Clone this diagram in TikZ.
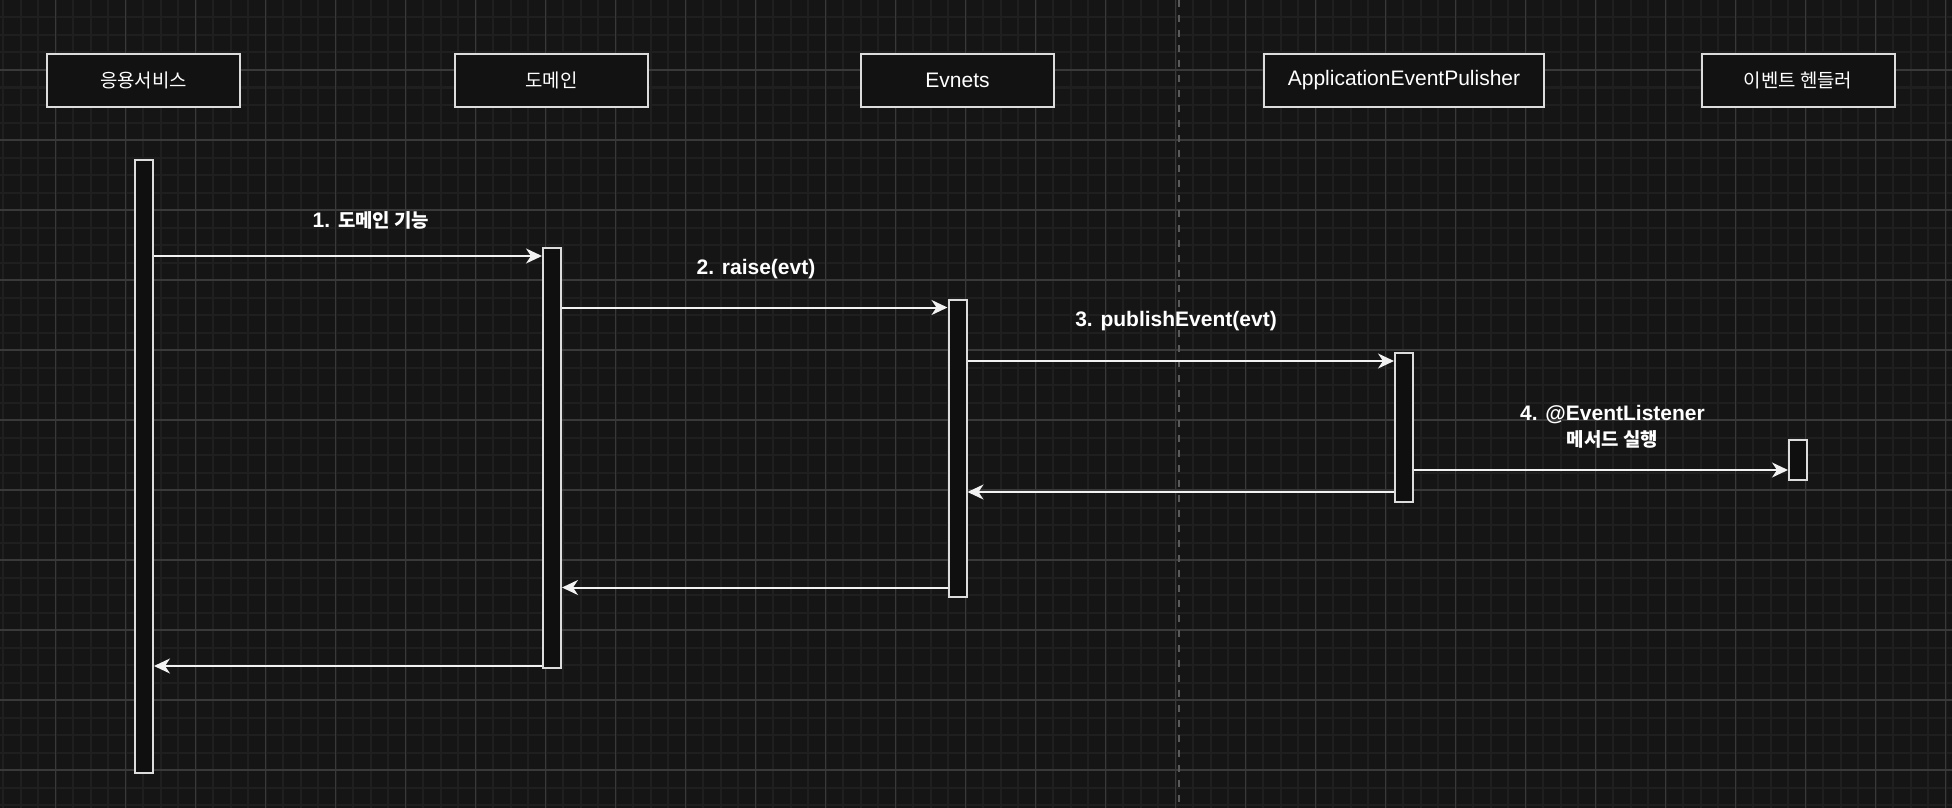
\documentclass[tikz,border=0pt]{standalone}
\usepackage{fontspec}
\setmainfont{Liberation Sans}
\newfontfamily\kr[Scale=0.9]{Noto Sans CJK KR}
\usetikzlibrary{arrows.meta}
\definecolor{bgc}{HTML}{151515}
\definecolor{minorc}{HTML}{1F1F1F}
\definecolor{majorc}{HTML}{393939}
\definecolor{sepc}{HTML}{5A5A5A}
\definecolor{boxline}{HTML}{DCDCDC}
\definecolor{boxfill}{HTML}{121212}
\definecolor{barfill}{HTML}{0F0F0F}
\definecolor{arrowc}{HTML}{F2F2F2}
\tikzset{
  minorline/.style={draw=minorc, line width=2pt},
  majorv/.style={draw=majorc, line width=1.3pt},
  majorh/.style={draw=majorc, line width=1.8pt},
  sepline/.style={draw=sepc, line width=2pt, dash pattern=on 7pt off 8pt},
  hdr/.style={draw=boxline, fill=boxfill, line width=2pt, minimum width=193pt, minimum height=53pt, inner sep=0pt, text=white, font=\fontsize{21}{25}\selectfont},
  lifebar/.style={draw=boxline, fill=barfill, line width=2pt, minimum width=18pt, inner sep=0pt, anchor=north},
  msg/.style={draw=arrowc, line width=2pt, -{Stealth[length=16pt,width=15pt,inset=5pt]}},
  lbl/.style={text=white, font=\fontsize{21}{26}\selectfont\bfseries, align=center, inner sep=0pt}
}
\begin{document}
\begin{tikzpicture}[x=1pt,y=-1pt]
\fill[bgc] (0,0) rectangle (1952,808);
\useasboundingbox (0,0) rectangle (1952,808);
% grid
\foreach \i in {0,...,111} { \draw[minorline] ({3.3+17.5*\i},0) -- ++(0,808); }
\foreach \j in {1,...,46} { \draw[minorline] (0,{17.5*\j}) -- ++(1952,0); }
\foreach \i in {0,...,27} { \draw[majorv] ({55.8+70*\i},0) -- ++(0,808); }
\foreach \j in {1,...,11} { \draw[majorh] (0,{70*\j}) -- ++(1952,0); }
\draw[sepline] (1179,0) -- (1179,808);
% headers
\node[hdr] (h1) at (143.5,80.5) {{\kr 응용서비스}};
\node[hdr] (h2) at (551.5,80.5) {{\kr 도메인}};
\node[hdr] (h3) at (957.5,80.5) {Evnets};
\node[hdr, minimum width=280pt] (h4) at (1404,80.5) {ApplicationEventPulisher};
\node[hdr] (h5) at (1798,80.5) {{\kr 이벤트 헨들러}};
% activation bars
\node[lifebar, minimum height=613pt] (b1) at (144,159) {};
\node[lifebar, minimum height=420pt] (b2) at (552,247) {};
\node[lifebar, minimum height=297pt] (b3) at (957.5,299) {};
\node[lifebar, minimum height=149pt] (b4) at (1404,352) {};
\node[lifebar, minimum height=40pt] (b5) at (1798,439) {};
% message levels
\coordinate (y1) at (0,256);
\coordinate (y2) at (0,307.5);
\coordinate (y3) at (0,361);
\coordinate (y4) at (0,470);
\coordinate (y5) at (0,492);
\coordinate (y6) at (0,587.5);
\coordinate (y7) at (0,666);
% messages
\draw[msg] (b1.east |- y1) -- (b2.west |- y1);
\draw[msg] (b2.east |- y2) -- (b3.west |- y2);
\draw[msg] (b3.east |- y3) -- (b4.west |- y3);
\draw[msg] (b4.east |- y4) -- (b5.west |- y4);
\draw[msg] (b4.west |- y5) -- (b3.east |- y5);
\draw[msg] (b3.west |- y6) -- (b2.east |- y6);
\draw[msg] (b2.west |- y7) -- (b1.east |- y7);
% labels
\node[lbl] (l1) at (371,220) {1. {\kr 도메인 기능}};
\node[lbl] (l2) at (756,269) {2. raise(evt)};
\node[lbl] (l3) at (1176,321) {3. publishEvent(evt)};
\node[lbl] (l4) at (1612.5,427) {4. @EventListener\\{\kr 메서드 실행}};
\end{tikzpicture}
\end{document}
